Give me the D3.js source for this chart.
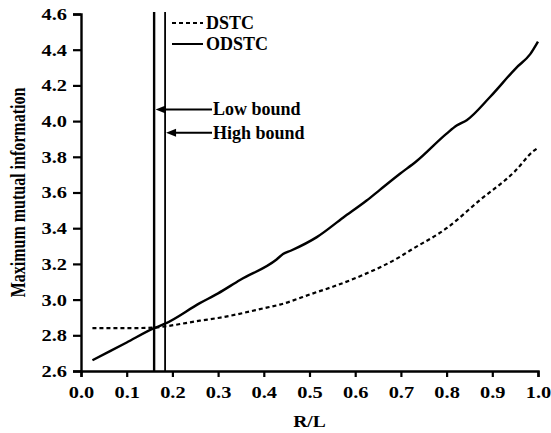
<!DOCTYPE html>
<html>
<head>
<meta charset="utf-8">
<script src="https://cdn.jsdelivr.net/npm/d3@7"></script>
<style>
  body { margin: 0; background: #fff; }
  svg { font-family: "Liberation Serif", "Times New Roman", serif; }
</style>
</head>
<body>
<svg id="chart" width="551" height="433"></svg>
<script>
const width = 551;
const height = 433;

// R/L values and the two curves
const odstcX = [0.025, 0.1, 0.16, 0.184, 0.26, 0.3, 0.348, 0.428, 0.442, 0.46, 0.516, 0.574, 0.625, 0.654, 0.698, 0.734, 0.8, 0.822, 0.844, 0.895, 0.953, 0.983, 1.0];
const odstcY = [2.66, 2.76, 2.84, 2.865, 2.98, 3.035, 3.11, 3.225, 3.255, 3.275, 3.35, 3.46, 3.555, 3.615, 3.705, 3.775, 3.93, 3.975, 4.005, 4.135, 4.3, 4.375, 4.445];
const dstcX = [0.025, 0.1, 0.16, 0.184, 0.26, 0.3, 0.406, 0.435, 0.508, 0.551, 0.617, 0.698, 0.72, 0.8, 0.873, 0.95, 0.989, 1.0];
const dstcY = [2.84, 2.84, 2.843, 2.85, 2.882, 2.897, 2.955, 2.972, 3.035, 3.072, 3.138, 3.24, 3.275, 3.4, 3.558, 3.72, 3.83, 3.85];

const bounds = [0.16, 0.184];
const boundNames = ["Low bound", "High bound"];
const boundArrowY = [4.065, 3.935];

const xTicks = [0, 0.1, 0.2, 0.3, 0.4, 0.5, 0.6, 0.7, 0.8, 0.9, 1.0];
const yTicks = [2.6, 2.8, 3.0, 3.2, 3.4, 3.6, 3.8, 4.0, 4.2, 4.4, 4.6];

const margin = { left: 81, right: 13, top: 14, bottom: 62 };
const stretch = 1.2; // the reference text looks a bit wide

const svg = d3.select("#chart");

const x = d3.scaleLinear().domain([0, 1]).range([margin.left, width - margin.right]);
const y = d3.scaleLinear().domain([2.6, 4.6]).range([height - margin.bottom, margin.top]);

// axes
const xAxis = svg.append("g")
    .attr("transform", `translate(0,${y(2.6)})`)
    .call(d3.axisBottom(x).tickValues(xTicks).tickFormat(d3.format(".1f")).tickSize(6));
const yAxis = svg.append("g")
    .attr("transform", `translate(${x(0)},0)`)
    .call(d3.axisLeft(y).tickValues(yTicks).tickFormat(d3.format(".1f")).tickSize(8));

[xAxis, yAxis].forEach(g => {
    g.select(".domain").attr("stroke", "#000").attr("stroke-width", 2.4);
    g.selectAll(".tick line").attr("stroke", "#000").attr("stroke-width", 2.2);
    g.selectAll(".tick text")
        .attr("fill", "#000")
        .style("font-family", "'Liberation Serif', serif")
        .style("font-size", "17px")
        .style("font-weight", "bold");
});
xAxis.selectAll(".tick text")
    .attr("y", 0)
    .attr("dy", 0)
    .attr("transform", `translate(0,27) scale(${stretch},1)`);
yAxis.selectAll(".tick text")
    .attr("x", -14 / stretch)
    .attr("transform", `scale(${stretch},1)`);

// axis titles
svg.append("text")
    .attr("transform", `translate(${x(0.5)},427) scale(1.15,1)`)
    .attr("text-anchor", "middle")
    .style("font-size", "17px")
    .style("font-weight", "bold")
    .text("R/L");

svg.append("text")
    .attr("transform", `translate(25,${(y(2.6) + y(4.6)) / 2}) rotate(-90) scale(1,1.3)`)
    .attr("text-anchor", "middle")
    .style("font-size", "16px")
    .style("font-weight", "bold")
    .text("Maximum mutual information");

// curves
const line = d3.line()
    .x(d => x(d[0]))
    .y(d => y(d[1]))
    .curve(d3.curveMonotoneX);

svg.append("path")
    .datum(dstcX.map((v, i) => [v, dstcY[i]]))
    .attr("d", line)
    .attr("fill", "none")
    .attr("stroke", "#000")
    .attr("stroke-width", 2.2)
    .attr("stroke-dasharray", "4,3");

svg.append("path")
    .datum(odstcX.map((v, i) => [v, odstcY[i]]))
    .attr("d", line)
    .attr("fill", "none")
    .attr("stroke", "#000")
    .attr("stroke-width", 2.4);

// bound lines
svg.selectAll(".bound")
    .data(bounds)
    .enter()
    .append("line")
    .attr("x1", d => x(d))
    .attr("x2", d => x(d))
    .attr("y1", y(4.6) - 2)
    .attr("y2", y(2.6))
    .attr("stroke", "#000")
    .attr("stroke-width", (d, i) => i === 0 ? 2.4 : 1.8);

// arrows pointing at the bound lines
const arrowStart = 212;
bounds.forEach((b, i) => {
    const ay = y(boundArrowY[i]);
    const tip = x(b) + (i === 0 ? 1.5 : 1);
    svg.append("line")
        .attr("x1", arrowStart)
        .attr("x2", tip + 8)
        .attr("y1", ay)
        .attr("y2", ay)
        .attr("stroke", "#000")
        .attr("stroke-width", 2);
    svg.append("path")
        .attr("d", `M${tip},${ay} L${tip + 10},${ay - 4} L${tip + 10},${ay + 4} Z`)
        .attr("fill", "#000");
    svg.append("text")
        .attr("x", arrowStart + 1)
        .attr("y", ay + 6)
        .style("font-size", "18px")
        .style("font-weight", "bold")
        .text(boundNames[i]);
});

// legend
const legend = [
    { name: "DSTC", dash: "4,3", y: 23 },
    { name: "ODSTC", dash: null, y: 44 }
];
legend.forEach(l => {
    svg.append("line")
        .attr("x1", 172)
        .attr("x2", 203)
        .attr("y1", l.y)
        .attr("y2", l.y)
        .attr("stroke", "#000")
        .attr("stroke-width", 2)
        .attr("stroke-dasharray", l.dash);
    svg.append("text")
        .attr("x", 206)
        .attr("y", l.y + 6)
        .style("font-size", "18px")
        .style("font-weight", "bold")
        .text(l.name);
});
</script>
</body>
</html>
